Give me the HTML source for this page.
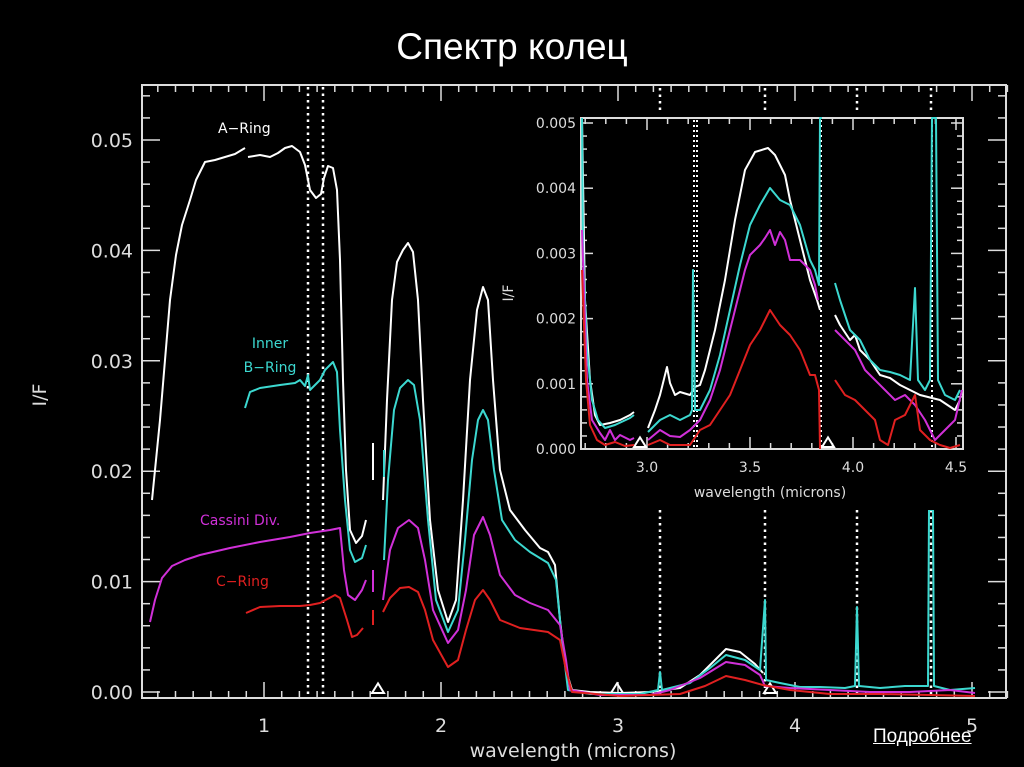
<!DOCTYPE html>
<html><head><meta charset="utf-8"><style>
html,body{margin:0;padding:0;background:#000;}
body{width:1024px;height:767px;overflow:hidden;position:relative;font-family:"Liberation Sans","DejaVu Sans",sans-serif;}
.t{position:absolute;color:#fff;}
</style></head><body>
<div class="t" style="left:0;width:1024px;top:26px;text-align:center;font-size:37px;">Спектр колец</div>
<svg id="s" width="1024" height="767" style="position:absolute;left:0;top:0" xmlns="http://www.w3.org/2000/svg"></svg>
<div class="t" style="left:873px;top:726px;font-size:19px;text-decoration:underline;">Подробнее</div>
<script>
const s=document.getElementById('s');let h='';
const L=(pts,c,w)=>{h+=`<polyline points="${pts}" fill="none" stroke="${c}" stroke-width="${w||2}" stroke-linejoin="round"/>`;};
const T=(x,y,t,sz,c,a,extra)=>{h+=`<text x="${x}" y="${y}" font-size="${sz}" fill="${c||'#ddd'}" text-anchor="${a||'middle'}" font-family="DejaVu Sans, Liberation Sans, sans-serif" ${extra||''}>${t}</text>`;};
const G='#ddd';
h+=`<rect x="142" y="85" width="864" height="613" fill="none" stroke="${G}" stroke-width="2"/>`;
const X=w=>264+177*(w-1), Y=v=>692-11040*v;
for(let w=0.4;w<=5.21;w+=0.1){let x=X(w);let maj=Math.abs(w-Math.round(w))<0.01;let l=maj?16:7;h+=`<line x1="${x}" y1="698" x2="${x}" y2="${698-l}" stroke="${G}" stroke-width="1.5"/><line x1="${x}" y1="85" x2="${x}" y2="${85+l}" stroke="${G}" stroke-width="1.5"/>`;}
for(let i=0;i<=27;i++){let v=i*0.002;let y=Y(v);if(y<86)break;let maj=i%5==0;let l=maj?18:8;h+=`<line x1="142" y1="${y}" x2="${142+l}" y2="${y}" stroke="${G}" stroke-width="1.5"/><line x1="1006" y1="${y}" x2="${1006-l}" y2="${y}" stroke="${G}" stroke-width="1.5"/>`;}
['0.00','0.01','0.02','0.03','0.04','0.05'].forEach((t,i)=>T(133,Y(i*0.01)+7,t,19,G,'end'));
[1,2,3,4,5].forEach(n=>T(X(n),732,n,19,G));
T(573,757,'wavelength (microns)',19,G);
T(46,395,'I/F',19,G,'middle','transform="rotate(-90 46 395)"');
const D=(x,y1,y2)=>{h+=`<line x1="${x}" y1="${y1}" x2="${x}" y2="${y2}" stroke="#fff" stroke-width="2.5" stroke-dasharray="2.5 4"/>`;};
D(308,87,697);D(323,87,697);
[660,765,857,931].forEach(x=>{D(x,88,110);D(x,510,697);});
const TR=(x,y,sz)=>{h+=`<polygon points="${x-sz},${y} ${x+sz},${y} ${x},${y-sz*1.6}" fill="none" stroke="#fff" stroke-width="2"/>`;};
TR(378,693,6);TR(617,693,6);TR(770,693,6);
const W='#fff',C='#3cd8d0',M='#d030d8',R='#e02020';
L('152,500 155,470 160,420 165,360 170,300 176,255 182,225 190,200 196,180 205,162 215,160 225,157 235,154 245,148',W);
L('248,157 260,155 270,157 278,153 285,148 292,146 300,152 305,165 310,190 316,198 321,194 324,178 328,166 333,168 337,190 340,260 343,380 346,470 350,530 356,543 362,536 366,520',W);
L('373,443 373,480',W);
L('383,500 387,400 392,300 397,262 403,250 408,243 413,252 418,300 423,400 430,520 438,590 448,622 456,600 463,500 470,380 477,310 483,287 488,300 493,380 500,470 510,510 525,530 540,548 548,552 555,565 560,620 566,670 572,690 590,692 620,693 650,692 680,688 700,675 715,660 726,649 740,652 755,664 763,673',W);
L('245,408 250,392 260,388 280,385 295,383 300,380 305,386 308,375 310,390 315,385 320,380 325,370 333,362 337,372 340,430 345,500 350,550 355,562 362,558 366,545',C);
L('384,450 384,477',C);
L('384,560 388,480 394,410 400,388 408,380 414,385 420,420 428,520 436,600 448,632 458,610 465,540 472,460 478,420 483,410 488,420 494,470 502,520 515,540 530,552 548,563 556,580 562,640 568,690 590,694 640,694 658,690 660,672 662,690 690,683 710,668 726,655 745,660 760,670 765,600 766,680',C);
L('766,680 780,683 800,687 820,687 845,688 855,686 857,607 859,686 880,688 905,686 925,686 928,686 929,510 933,510 934,686 950,690 975,688',C);
L('150,622 155,600 162,578 172,566 185,560 200,555 230,548 260,542 290,537 310,533 330,530 340,528 344,570 348,595 355,600 362,590 366,580',M);
L('373,570 373,592',M);
L('383,600 390,550 398,528 409,520 418,528 425,560 433,610 448,643 458,630 466,590 474,535 483,517 490,535 500,575 515,595 530,603 548,610 560,625 566,660 570,690 600,695 650,695 670,690 700,678 726,662 745,665 760,675 765,686 790,688 830,690 870,692 910,692 950,690 975,693',M);
L('246,613 260,607 280,606 300,606 310,605 320,603 335,595 340,598 347,620 352,637 357,635 363,628',R);
L('373,610 373,625',R);
L('383,612 390,598 400,588 409,587 418,592 425,610 433,640 448,667 458,660 466,630 475,600 483,590 490,600 500,620 520,628 548,632 560,640 566,670 572,692 620,696 680,694 705,686 726,676 745,680 763,685 790,690 830,694 880,694 930,695 975,696',R);
T(218,133,'A−Ring',14,'#fff','start');
T(270,348,'Inner',14,C);T(270,372,'B−Ring',14,C);
T(200,525,'Cassini Div.',14,M,'start');
T(216,586,'C−Ring',14,R,'start');
h+=`<rect x="566" y="110" width="410" height="400" fill="#000"/>`;
const XI=w=>647+206*(w-3), YI=v=>449-65.2*v*1000;
h+=`<rect x="581" y="118" width="382" height="331" fill="none" stroke="${G}" stroke-width="2"/>`;
for(let w=2.7;w<=4.51;w+=0.1){let x=XI(w);let maj=Math.abs(w*2-Math.round(w*2))<0.02;let l=maj?12:6;h+=`<line x1="${x}" y1="449" x2="${x}" y2="${449-l}" stroke="${G}" stroke-width="1.5"/><line x1="${x}" y1="118" x2="${x}" y2="${118+l}" stroke="${G}" stroke-width="1.5"/>`;}
for(let i=0;i<=25;i++){let y=YI(i*0.0002);let maj=i%5==0;let l=maj?12:6;h+=`<line x1="581" y1="${y}" x2="${581+l}" y2="${y}" stroke="${G}" stroke-width="1.5"/><line x1="963" y1="${y}" x2="${963-l}" y2="${y}" stroke="${G}" stroke-width="1.5"/>`;}
['0.000','0.001','0.002','0.003','0.004','0.005'].forEach((t,i)=>T(576,YI(i*0.001)+5,t,14,G,'end'));
['3.0','3.5','4.0','4.5'].forEach(t=>T(XI(+t),472,t,14,G));
T(770,497,'wavelength (microns)',14,G);
T(513,293,'I/F',14,G,'middle','transform="rotate(-90 513 293)"');
const DI=(x)=>{h+=`<line x1="${x}" y1="120" x2="${x}" y2="448" stroke="#fff" stroke-width="2" stroke-dasharray="2 3"/>`;};
DI(694);DI(697);DI(821);DI(932);
TR(640,447,6);TR(828,447,6);
L('582,118 585,300 590,380 595,415 600,425 610,423 620,420 630,415 634,412',W);
L('648,428 655,410 660,395 667,367 670,383 675,395 680,392 690,395 695,387 700,385 705,370 715,330 725,280 735,220 745,170 755,152 768,148 775,155 785,175 790,200 800,240 810,280 817,300 820,310',W);
L('835,315 840,325 850,340 855,335 860,350 870,360 880,375 890,378 900,385 920,395 940,400 955,410 960,400',W);
L('582,118 583,250 587,350 592,400 598,420 605,428 615,425 630,418 634,415',C);
L('648,432 660,420 670,415 680,420 690,415 692,410 693,270 695,410 700,410 710,390 720,355 730,310 740,265 750,225 760,205 770,188 780,200 790,205 800,225 810,260 815,270 819,285 820,118 822,118',C);
L('835,283 840,300 850,330 860,340 870,360 880,370 890,372 900,375 910,380 915,288 918,380 925,390 930,380 932,118 936,118 938,380 945,395 955,400 960,390',C);
L('582,230 587,380 592,420 600,433 605,440 610,430 615,440 620,435 630,440 634,438',M);
L('648,440 660,430 670,436 680,437 690,430 700,420 710,400 720,370 730,330 740,290 745,270 750,255 755,250 760,245 765,238 770,230 775,245 780,232 785,240 790,260 800,260 810,270 815,285 818,300',M);
L('835,330 845,340 855,350 865,370 875,380 885,390 895,400 905,395 915,405 925,420 935,440 945,430 955,420 962,390',M);
L('582,270 586,380 590,425 597,440 605,445 615,442 625,446 634,445',R);
L('648,445 660,440 670,445 690,445 700,430 710,425 720,410 730,395 740,370 750,345 760,330 770,310 780,325 790,335 800,350 810,375 815,375 819,390 820,449',R);
L('835,380 845,395 855,400 865,410 875,420 880,440 888,445 895,420 905,415 915,395 920,430 930,440 940,445 950,448 960,445',R);
s.innerHTML=h;
</script>
</body></html>
